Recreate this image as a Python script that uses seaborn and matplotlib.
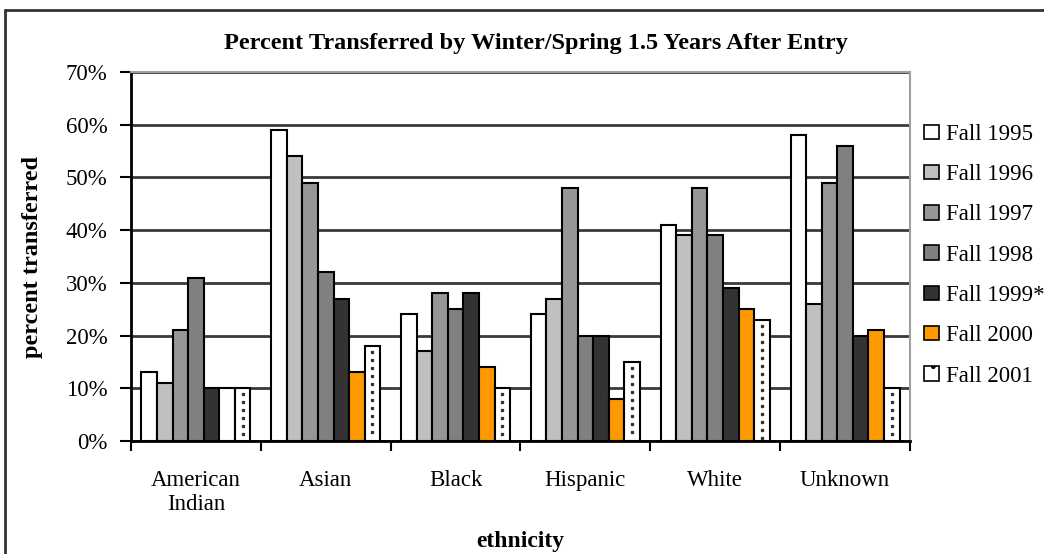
import numpy as np
import pandas as pd
import seaborn as sns
import matplotlib.pyplot as plt
from matplotlib.patches import Patch
from matplotlib.lines import Line2D

# Chart data (percent transferred)
ethnicities = ['American\nIndian', 'Asian', 'Black', 'Hispanic', 'White', 'Unknown']
cohorts = ['Fall 1995', 'Fall 1996', 'Fall 1997', 'Fall 1998', 'Fall 1999*', 'Fall 2000', 'Fall 2001']
fall_1995 = [13, 59, 24, 24, 41, 58]
fall_1996 = [11, 54, 17, 27, 39, 26]
fall_1997 = [21, 49, 28, 48, 48, 49]
fall_1998 = [31, 32, 25, 20, 39, 56]
fall_1999 = [10, 27, 28, 20, 29, 20]
fall_2000 = [10, 13, 14, 8, 25, 21]
fall_2001 = [10, 18, 10, 15, 23, 10]
y_ticks = [0, 10, 20, 30, 40, 50, 60, 70]

colors = ['#ffffff', '#c0c0c0', '#969696', '#808080', '#333333', '#ff9900', '#ffffff']

series = [fall_1995, fall_1996, fall_1997, fall_1998, fall_1999, fall_2000, fall_2001]
df = pd.DataFrame({
    'ethnicity': ethnicities * len(cohorts),
    'cohort': [c for c in cohorts for _ in ethnicities],
    'pct': [v for s in series for v in s],
})

sns.set_style('white')
plt.rcParams['font.family'] = ['Liberation Serif', 'DejaVu Serif']
plt.rcParams['text.color'] = 'black'
plt.rcParams['axes.labelcolor'] = 'black'
plt.rcParams['xtick.color'] = 'black'
plt.rcParams['ytick.color'] = 'black'

fig = plt.figure(figsize=(10.44, 5.54), dpi=100)
ax = fig.add_axes([131 / 1044, 1 - 441 / 554, (910 - 131) / 1044, (441 - 72) / 554])

ax.yaxis.grid(True, color='#3a3a3a', linewidth=2)
ax.set_axisbelow(True)

sns.barplot(data=df, x='ethnicity', y='pct', hue='cohort', hue_order=cohorts,
            palette=dict(zip(cohorts, colors)), saturation=1, width=0.84, gap=0,
            edgecolor='black', linewidth=1.5, errorbar=None, legend=False, ax=ax)

# the American Indian Fall 2000 bar shows unfilled in the original
ax.containers[5][0].set_facecolor('white')

# dotted fill for Fall 2001 bars
for p in ax.containers[6]:
    xc = p.get_x() + p.get_width() / 2
    ys = np.arange(p.get_height() - 1.1, 0.5, -1.52)
    ax.plot([xc] * len(ys), ys, linestyle='none', marker='s', markersize=1.4,
            color='#333333', zorder=5)

ax.set_ylim(0, 70)
ax.set_xlim(-0.5, len(ethnicities) - 0.5)
ax.set_yticks(y_ticks)
ax.set_yticklabels([f'{t}%' for t in y_ticks], fontsize=16.5)
ax.set_xticks(range(len(ethnicities)))
ax.set_xticklabels(ethnicities, fontsize=16.5, linespacing=1.2)
ax.set_xticks(np.arange(-0.5, len(ethnicities)), minor=True)
ax.tick_params(axis='x', which='major', length=0, pad=21)
ax.tick_params(axis='x', which='minor', direction='out', length=7, width=1.5, color='black', bottom=True)
ax.tick_params(axis='y', direction='out', length=8, width=1.5, color='black', left=True, pad=9)

for side in ['left', 'bottom']:
    ax.spines[side].set_color('black')
    ax.spines[side].set_linewidth(2)
for side in ['top', 'right']:
    ax.spines[side].set_color('#a0a0a0')
    ax.spines[side].set_linewidth(1.5)

ax.set_xlabel('ethnicity', fontsize=17, fontweight='bold', labelpad=11)
ax.set_ylabel('percent transferred', fontsize=17.5, fontweight='bold', labelpad=16)
fig.text(536 / 1044, 1 - 43 / 554, 'Percent Transferred by Winter/Spring 1.5 Years After Entry',
         ha='center', va='center', fontsize=17.5, fontweight='bold')

handles = [Patch(facecolor=c, edgecolor='black', linewidth=1.2, label=l)
           for c, l in zip(colors, cohorts)]
handles[-1] = Patch(facecolor='white', edgecolor='black', linewidth=1.2, hatch='.', label=cohorts[-1])
fig.legend(handles=handles, loc='upper left', bbox_to_anchor=(924 / 1044, 1 - 124 / 554),
           frameon=False, fontsize=16.5, handlelength=0.65, handleheight=0.6,
           handletextpad=0.3, labelspacing=0.84, borderaxespad=0, borderpad=0)

# outer chart border
fig.add_artist(Line2D([5 / 1044, 5 / 1044], [0, 1 - 10 / 554], color='#333333', linewidth=2))
fig.add_artist(Line2D([5 / 1044, 1], [1 - 10 / 554, 1 - 10 / 554], color='#333333', linewidth=2))

fig.savefig('out.png', dpi=100)
